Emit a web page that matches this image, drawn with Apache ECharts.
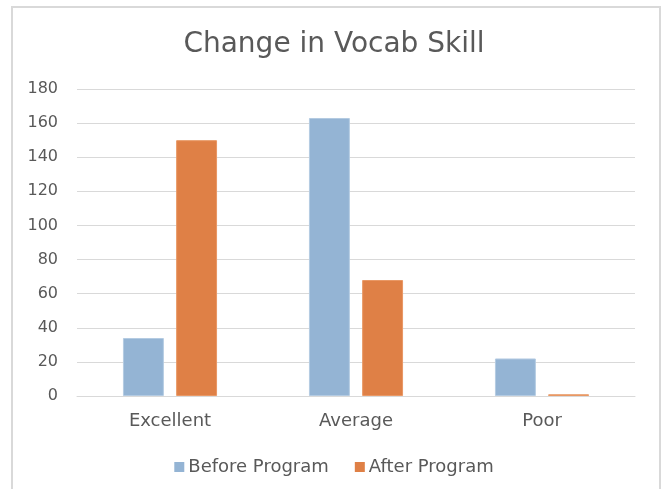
<!DOCTYPE html>
<html>
<head>
<meta charset="utf-8">
<script src="https://cdn.jsdelivr.net/npm/echarts@6/dist/echarts.min.js"></script>
<style>
  html, body { margin: 0; padding: 0; background: #fff; }
  #chart { width: 668px; height: 489px; }
</style>
</head>
<body>
<div id="chart"></div>
<script>
// chart data
const categories = ['Excellent', 'Average', 'Poor']
const beforeProgram = [34, 163, 22]
const afterProgram = [150, 68, 1]

const chart = echarts.init(document.getElementById('chart'))
const textColor = '#595959'
const font = 'DejaVu Sans'

const option = {
  animation: false,
  title: {
    text: 'Change in Vocab Skill',
    left: 'center',
    top: 26,
    textStyle: { fontFamily: font, fontSize: 28, fontWeight: 'normal', color: textColor }
  },
  graphic: [{
    type: 'rect',
    shape: { x: 12, y: 7, width: 648, height: 520 },
    style: { fill: 'none', stroke: '#d9d9d9', lineWidth: 2 },
    silent: true
  }],
  legend: {
    data: ['Before Program', 'After Program'],
    top: 453,
    left: 'center',
    icon: 'rect',
    itemWidth: 10,
    itemHeight: 10,
    itemGap: 26,
    itemStyle: { borderWidth: 0 },
    textStyle: { fontFamily: font, fontSize: 18, color: textColor, padding: [0, 0, 0, -1] }
  },
  grid: { left: 77, right: 33, top: 89, bottom: 93 },
  xAxis: {
    type: 'category',
    data: categories,
    axisLine: { lineStyle: { color: '#d9d9d9', width: 1 } },
    axisTick: { show: false },
    axisLabel: { fontFamily: font, fontSize: 18, color: textColor, margin: 16 }
  },
  yAxis: {
    type: 'value',
    min: 0,
    max: 180,
    interval: 20,
    axisLine: { show: false },
    axisTick: { show: false },
    splitLine: { lineStyle: { color: '#d9d9d9', width: 1 } },
    axisLabel: { fontFamily: font, fontSize: 16, color: textColor, margin: 19 }
  },
  series: [
    {
      name: 'Before Program',
      type: 'bar',
      barWidth: '22%',
      barGap: '30%',
      itemStyle: { color: '#94b4d4', borderColor: '#b4cbe2', borderWidth: 1 },
      data: beforeProgram
    },
    {
      name: 'After Program',
      type: 'bar',
      barWidth: '22%',
      itemStyle: { color: '#df8046', borderColor: '#e99865', borderWidth: 1 },
      data: afterProgram
    }
  ]
}
chart.setOption(option)
</script>
</body>
</html>
